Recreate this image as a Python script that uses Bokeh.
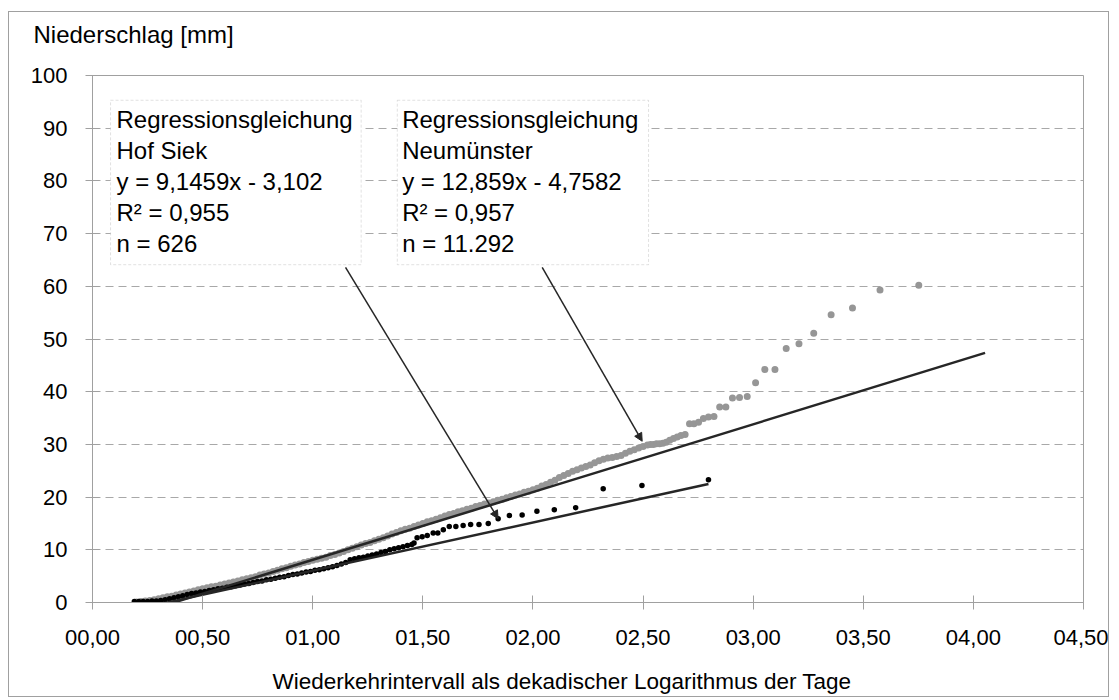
from bokeh.plotting import figure
from bokeh.models import (FixedTicker, Label, BoxAnnotation, Arrow, NormalHead,
                          ColumnDataSource, Range1d, Title)
from bokeh.embed import file_html
from bokeh.resources import INLINE

FONT = "Liberation Sans"

# ---------------- data ----------------
x_ticks = [0.0, 0.5, 1.0, 1.5, 2.0, 2.5, 3.0, 3.5, 4.0, 4.5]
x_tick_labels = ["00,00", "00,50", "01,00", "01,50", "02,00", "02,50",
                 "03,00", "03,50", "04,00", "04,50"]
y_ticks = [0, 10, 20, 30, 40, 50, 60, 70, 80, 90, 100]

# Neumünster (grey points)
neu_x = [0.20, 0.22, 0.24, 0.26, 0.28, 0.30, 0.32, 0.34, 0.36, 0.38,
         0.40, 0.42, 0.44, 0.46, 0.48, 0.50, 0.52, 0.54, 0.56, 0.58,
         0.60, 0.62, 0.64, 0.66, 0.68, 0.70, 0.72, 0.74, 0.76, 0.78,
         0.80, 0.82, 0.84, 0.86, 0.88, 0.90, 0.92, 0.94, 0.96, 0.98,
         1.00, 1.02, 1.04, 1.06, 1.08, 1.10, 1.12, 1.14, 1.16, 1.18,
         1.20, 1.22, 1.24, 1.26, 1.28, 1.30, 1.32, 1.34, 1.36, 1.38,
         1.40, 1.42, 1.44, 1.46, 1.48, 1.50, 1.52, 1.54, 1.56, 1.58,
         1.60, 1.62, 1.64, 1.66, 1.68, 1.70, 1.72, 1.74, 1.76, 1.78,
         1.80, 1.82, 1.84, 1.86, 1.88, 1.90, 1.92, 1.94, 1.96, 1.98,
         2.00, 2.02, 2.04, 2.06, 2.08, 2.10, 2.12, 2.14, 2.16, 2.18,
         2.20, 2.22, 2.24, 2.26, 2.28, 2.30, 2.32, 2.34, 2.36, 2.38,
         2.40, 2.42, 2.44, 2.46, 2.48, 2.50, 2.52,
         2.534, 2.547, 2.561, 2.575, 2.590, 2.605, 2.621, 2.638, 2.655, 2.672,
         2.691, 2.711, 2.731, 2.752, 2.774, 2.797, 2.822, 2.848, 2.876, 2.906,
         2.938, 2.973, 3.011, 3.053, 3.099, 3.150, 3.208, 3.275, 3.354, 3.451,
         3.576, 3.752]
neu_y = [0.1, 0.2, 0.3, 0.4, 0.5, 0.7, 0.9, 1.1, 1.2, 1.4,
         1.6, 1.8, 2.0, 2.2, 2.4, 2.6, 2.8, 3.0, 3.1, 3.3,
         3.5, 3.7, 3.9, 4.1, 4.3, 4.5, 4.7, 4.9, 5.2, 5.4,
         5.6, 5.9, 6.1, 6.4, 6.6, 6.9, 7.1, 7.3, 7.6, 7.8,
         8.0, 8.2, 8.4, 8.6, 8.9, 9.1, 9.4, 9.7, 10.0, 10.3,
         10.6, 10.9, 11.2, 11.4, 11.7, 12.0, 12.3, 12.6, 13.0, 13.3,
         13.6, 13.9, 14.1, 14.4, 14.7, 15.0, 15.3, 15.5, 15.8, 16.1,
         16.4, 16.7, 16.9, 17.2, 17.4, 17.7, 17.9, 18.2, 18.4, 18.7,
         18.9, 19.1, 19.4, 19.6, 19.9, 20.1, 20.4, 20.6, 20.9, 21.1,
         21.4, 21.7, 22.1, 22.4, 22.8, 23.2, 23.7, 24.1, 24.5, 24.9,
         25.2, 25.5, 25.8, 26.1, 26.5, 26.9, 27.2, 27.4, 27.5, 27.7,
         27.9, 28.3, 28.7, 29.0, 29.3, 29.6, 29.9,
         30.0, 30.0, 30.1, 30.1, 30.2, 30.4, 30.8, 31.1, 31.4, 31.7,
         31.9, 33.9, 33.9, 34.2, 34.9, 35.2, 35.3, 37.1, 37.1, 38.8,
         38.9, 39.1, 41.7, 44.2, 44.2, 48.2, 49.1, 51.1, 54.6, 55.9,
         59.3, 60.2]

# Hof Siek (black points)
hof_x = [0.19, 0.21, 0.23, 0.25, 0.27, 0.29, 0.31, 0.33, 0.35, 0.37,
         0.39, 0.41, 0.43, 0.45, 0.47, 0.49, 0.51, 0.53, 0.55, 0.57,
         0.59, 0.61, 0.63, 0.65, 0.67, 0.69, 0.71, 0.73, 0.75, 0.77,
         0.79, 0.81, 0.83, 0.85, 0.87, 0.89, 0.91, 0.93, 0.95, 0.97,
         0.99, 1.01, 1.03, 1.05, 1.07, 1.09, 1.11, 1.13, 1.15, 1.17,
         1.19, 1.21, 1.23, 1.25, 1.27, 1.29, 1.31, 1.33, 1.35, 1.37,
         1.39, 1.41, 1.43, 1.45, 1.46, 1.474, 1.497, 1.52, 1.547, 1.568,
         1.593, 1.620, 1.650, 1.683, 1.717, 1.755, 1.797, 1.842, 1.893, 1.951,
         2.018, 2.097, 2.194, 2.319, 2.495, 2.797]
hof_y = [0.2, 0.2, 0.2, 0.2, 0.3, 0.3, 0.4, 0.5, 0.7, 0.9,
         1.1, 1.3, 1.5, 1.7, 1.8, 2.0, 2.1, 2.3, 2.4, 2.6,
         2.7, 2.9, 3.0, 3.2, 3.3, 3.5, 3.6, 3.8, 4.0, 4.1,
         4.3, 4.4, 4.6, 4.8, 4.9, 5.1, 5.3, 5.4, 5.6, 5.8,
         5.9, 6.1, 6.2, 6.4, 6.6, 6.8, 7.0, 7.3, 7.6, 8.1,
         8.3, 8.5, 8.6, 8.8, 9.0, 9.2, 9.5, 9.7, 10.0, 10.2,
         10.4, 10.6, 10.8, 11.0, 11.3, 12.3, 12.5, 12.7, 13.2, 13.2,
         13.8, 14.4, 14.4, 14.6, 14.8, 14.8, 15.0, 15.9, 16.5, 16.6,
         17.3, 17.6, 18.0, 21.6, 22.2, 23.3]

# regression lines (slope, intercept, x-extent)
neu_slope, neu_icpt = 12.859, -4.7582
neu_line_x = [0.20, 4.053]
hof_slope, hof_icpt = 9.1459, -3.102
hof_line_x = [0.19, 2.797]

box1_lines = ["Regressionsgleichung", "Hof Siek", "y = 9,1459x - 3,102",
              "R² = 0,955", "n = 626"]
box2_lines = ["Regressionsgleichung", "Neumünster", "y = 12,859x - 4,7582",
              "R² = 0,957", "n = 11.292"]

y_title = "Niederschlag [mm]"
x_title = "Wiederkehrintervall als dekadischer Logarithmus der Tage"

# ---------------- figure ----------------
p = figure(width=1101, height=686, x_range=Range1d(0, 4.5), y_range=Range1d(0, 100),
           output_backend="svg", toolbar_location=None,
           min_border_left=83, min_border_right=27, min_border_top=63, min_border_bottom=96,
           styles={"border": "1px solid #a0a0a0", "margin-left": "8px", "margin-top": "11px"})
p.outline_line_color = "#a0a0a0"
p.background_fill_color = "white"
p.border_fill_color = "white"

AX = "#a0a0a0"
for ax in (p.xaxis[0], p.yaxis[0]):
    ax.axis_line_color = AX
    ax.major_tick_line_color = AX
    ax.minor_tick_line_color = None
    ax.major_tick_in = 7
    ax.major_tick_out = 7
    ax.major_label_text_font = FONT
    ax.major_label_text_font_size = "22px"
    ax.major_label_text_color = "black"

p.xaxis.ticker = FixedTicker(ticks=x_ticks)
p.xaxis.major_label_overrides = {t: l for t, l in zip(x_ticks, x_tick_labels)}
p.xaxis.major_label_standoff = 20

p.yaxis.ticker = FixedTicker(ticks=y_ticks)
p.yaxis.major_label_standoff = 18

p.xgrid.visible = False
p.ygrid.ticker = FixedTicker(ticks=y_ticks)
p.ygrid.grid_line_color = "#a8a8a8"
p.ygrid.grid_line_dash = "8 5"
p.ygrid.grid_line_width = 1

neu_src = ColumnDataSource(dict(x=neu_x, y=neu_y))
hof_src = ColumnDataSource(dict(x=hof_x, y=hof_y))

p.scatter("x", "y", source=neu_src, size=7, color="#969696", line_color=None)
p.scatter("x", "y", source=hof_src, size=5.5, color="black", line_color=None)

p.line(neu_line_x, [neu_slope * v + neu_icpt for v in neu_line_x],
       line_color="#262626", line_width=2.5)
p.line(hof_line_x, [hof_slope * v + hof_icpt for v in hof_line_x],
       line_color="#262626", line_width=2.5)

# annotation boxes
boxes = [(0.082, 1.220, box1_lines, 0.109), (1.384, 2.525, box2_lines, 1.406)]
for left, right, lines, tx in boxes:
    p.add_layout(BoxAnnotation(left=left, right=right, top=95.3, bottom=64.1,
                               fill_color="white", fill_alpha=1.0,
                               line_color="#9a9a9a", line_dash="3 2", line_width=1))
    for i, t in enumerate(lines):
        p.add_layout(Label(x=tx, y=91.6 - i * 5.88, text=t, text_font=FONT,
                           text_font_size="24px", text_baseline="middle",
                           text_color="black"))

# arrows
for xs, ys, xe, ye in [(1.149, 63.6, 1.842, 15.9), (2.042, 63.6, 2.496, 30.6)]:
    p.add_layout(Arrow(end=NormalHead(size=8, fill_color="#262626", line_color="#262626"),
                       x_start=xs, y_start=ys, x_end=xe, y_end=ye,
                       line_color="#262626", line_width=1.5))

# titles (a blank spacer title sits between the frame/axis and each title)
p.add_layout(Title(text=" ", text_font=FONT, text_font_size="12px", standoff=11), "above")
p.add_layout(Title(text=y_title, align="left", offset=-59, standoff=2,
                   text_font=FONT, text_font_size="24px", text_font_style="normal",
                   text_color="black"), "above")
p.add_layout(Title(text=" ", text_font=FONT, text_font_size="12px", standoff=2), "below")
p.add_layout(Title(text=x_title, align="left", offset=180, standoff=2,
                   text_font=FONT, text_font_size="22.5px", text_font_style="normal",
                   text_color="black"), "below")

open("out.html", "w").write(file_html(p, INLINE))
